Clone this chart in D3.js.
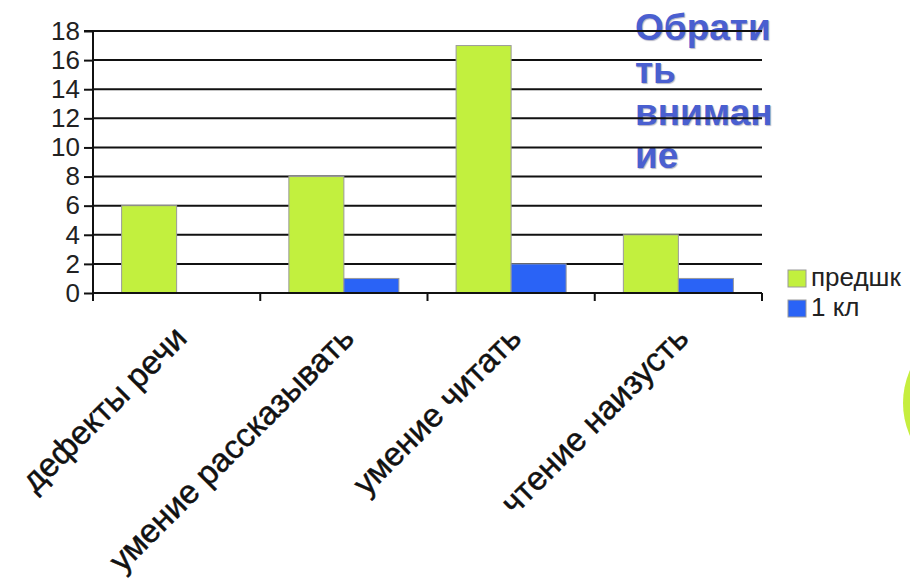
<!DOCTYPE html>
<html><head><meta charset="utf-8">
<script src="https://cdn.jsdelivr.net/npm/d3@7"></script>
<style>
html,body{margin:0;padding:0;background:#fff;}
svg{display:block;font-family:"Liberation Sans",Arial,sans-serif;}
</style></head>
<body>
<svg id="chart" width="910" height="581"></svg>
<script>
const categories = ["дефекты речи", "умение рассказывать", "умение читать", "чтение наизусть"];
const seriesNames = ["предшк", "1 кл"];
const preschool = [6, 8, 17, 4];
const grade1 = [0, 1, 2, 1];
const yTickValues = [0, 2, 4, 6, 8, 10, 12, 14, 16, 18];
const noteLines = ["Обрати", "ть", "вниман", "ие"];
const colors = ["#c2f03e", "#2a63f6"];

const svg = d3.select("#chart");
const m = {left: 93, right: 762, top: 31, bottom: 293};

const x = d3.scaleBand().domain(categories).range([m.left, m.right]).padding(0);
const xs = d3.scaleBand().domain(seriesNames).range([0, x.bandwidth()]).paddingInner(0).paddingOuter(0.52);
const y = d3.scaleLinear().domain([0, 18]).range([m.bottom, m.top]);

// decorative circle at right edge
svg.append("circle").attr("cx", 984).attr("cy", 403).attr("r", 81).attr("fill", "#c6ee3e");

// annotation text (behind gridlines)
const note = svg.append("text")
  .attr("x", 635).attr("y", 40)
  .attr("font-size", 37).attr("font-weight", "bold")
  .attr("fill", "#4a5fd0")
  .style("text-shadow", "1px 1px 1px rgba(40,40,90,0.35)");
note.selectAll("tspan").data(noteLines).join("tspan")
  .attr("x", 635).attr("dy", (d, i) => i === 0 ? 0 : 42.5).text(d => d);

// gridlines
svg.append("g").selectAll("line").data(yTickValues).join("line")
  .attr("x1", m.left).attr("x2", m.right)
  .attr("y1", d => y(d)).attr("y2", d => y(d))
  .attr("stroke", "#111").attr("stroke-width", 2);

// bars
const rows = categories.map((c, i) => ({cat: c, vals: [preschool[i], grade1[i]]}));
const gBars = svg.append("g");
rows.forEach(r => {
  r.vals.forEach((v, j) => {
    if (v <= 0) return;
    gBars.append("rect")
      .attr("x", x(r.cat) + xs(seriesNames[j]))
      .attr("y", y(v))
      .attr("width", xs.bandwidth())
      .attr("height", y(0) - y(v))
      .attr("fill", colors[j])
      .attr("stroke", "#9a9a9a").attr("stroke-width", 1);
  });
});

// y axis
const yAxis = d3.axisLeft(y).tickValues(yTickValues).tickSize(9).tickPadding(4).tickFormat(d3.format("d"));
const gy = svg.append("g").attr("transform", `translate(${m.left},0)`).call(yAxis);
gy.select(".domain").attr("stroke", "#111").attr("stroke-width", 2).attr("d", `M-9,${m.top}H0V${m.bottom + 8}`);
gy.selectAll(".tick line").attr("stroke", "#111").attr("stroke-width", 2);
gy.selectAll(".tick text").attr("font-size", 26).attr("fill", "#222").attr("font-family", "Liberation Sans, Arial, sans-serif");

// x axis tick marks at category boundaries
const bounds = categories.map(c => x(c)).concat([x(categories[categories.length - 1]) + x.bandwidth()]);
svg.append("g").selectAll("line").data(bounds).join("line")
  .attr("x1", d => d).attr("x2", d => d)
  .attr("y1", m.bottom).attr("y2", m.bottom + 8)
  .attr("stroke", "#111").attr("stroke-width", 2);
svg.append("line").attr("x1", m.left).attr("x2", m.right).attr("y1", m.bottom).attr("y2", m.bottom)
  .attr("stroke", "#111").attr("stroke-width", 2);

// category labels rotated
svg.append("g").selectAll("text").data(categories).join("text")
  .attr("transform", d => `translate(${x(d) + x.bandwidth() / 2 + 12},340) rotate(-45)`)
  .attr("text-anchor", "end")
  .attr("font-size", 33).attr("fill", "#111")
  .attr("stroke", "#111").attr("stroke-width", 0.5)
  .text(d => d);

// legend
const lg = svg.append("g").attr("transform", "translate(788,270)");
seriesNames.forEach((s, i) => {
  const g = lg.append("g").attr("transform", `translate(0,${i * 30})`);
  g.append("rect").attr("width", 18).attr("height", 17).attr("fill", colors[i]).attr("stroke", "#9a9a9a").attr("stroke-width", 1);
  g.append("text").attr("x", 23).attr("y", 16).attr("font-size", 26).attr("fill", "#222").text(s);
});
</script>
</body></html>
